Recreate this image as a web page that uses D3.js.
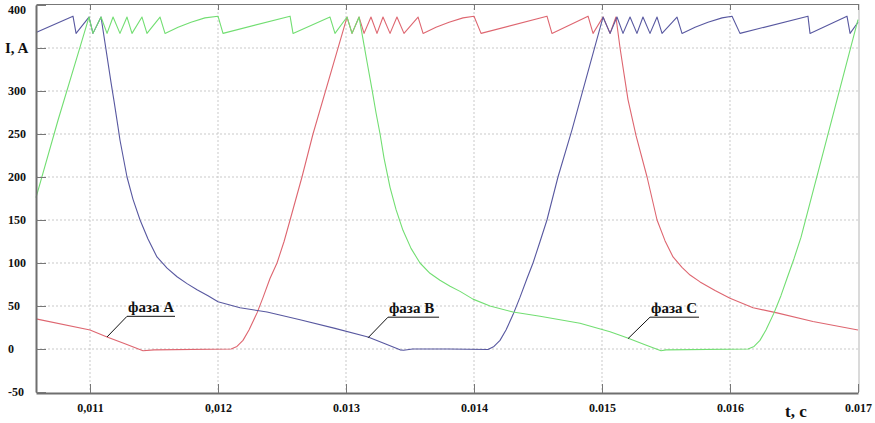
<!DOCTYPE html>
<html>
<head>
<meta charset="utf-8">
<script src="https://cdn.jsdelivr.net/npm/d3@7"></script>
<style>
body { margin: 0; background: #fff; }
.grid line { stroke: #c9c9c9; stroke-width: 1; stroke-dasharray: 2,2; }
.phase { fill: none; stroke-width: 1.1; stroke-linejoin: round; }
</style>
</head>
<body>
<svg id="chart"></svg>
<script>
// Phase currents: [t (s), I (A)]
const phaseA = [
  [0.010578, 35], [0.011, 22], [0.011133, 14], [0.011273, 6], [0.011414, -2], [0.0115, -1],
  [0.012102, 0], [0.012148, 3], [0.012195, 10], [0.012242, 22], [0.012305, 42],
  [0.012352, 60], [0.012406, 82], [0.012461, 100], [0.012516, 125], [0.012563, 150],
  [0.012656, 200], [0.012742, 250], [0.013008, 386],
  [0.013047, 367], [0.013102, 386], [0.013141, 367], [0.013195, 386],
  [0.013242, 367], [0.013289, 386], [0.013344, 367], [0.013398, 386],
  [0.013453, 367], [0.013563, 386], [0.013602, 367],
  [0.013703, 374], [0.013805, 380], [0.013914, 385], [0.014, 387],
  [0.014055, 367], [0.01457, 387], [0.014609, 367], [0.014891, 387],
  [0.01493, 367], [0.015008, 386], [0.015063, 367], [0.015109, 386],
  [0.015141, 350], [0.015172, 320], [0.015203, 290], [0.015266, 248],
  [0.015352, 200], [0.01543, 150], [0.015492, 126], [0.015555, 107],
  [0.015625, 95], [0.015688, 86], [0.015766, 78], [0.015883, 68],
  [0.016, 59], [0.01618, 48], [0.016367, 42], [0.016648, 32], [0.017, 22]
];

const phaseB = [
  [0.010578, 368], [0.010867, 387], [0.010891, 367], [0.010992, 386],
  [0.011023, 367], [0.011086, 386],
  [0.011117, 356], [0.011164, 310], [0.011188, 288], [0.011219, 258],
  [0.011234, 243], [0.011289, 200], [0.011336, 174], [0.011391, 150],
  [0.011453, 128], [0.011523, 107], [0.011602, 94], [0.01168, 84],
  [0.011758, 76], [0.011836, 69], [0.011922, 62], [0.012, 55],
  [0.012172, 48], [0.012383, 43], [0.012641, 34], [0.012914, 24],
  [0.013172, 14], [0.013305, 6], [0.013422, -1],
  [0.01345, -1.5], [0.01352, 0], [0.0138, 0], [0.014109, -0.5],
  [0.014156, 3], [0.014203, 10], [0.01425, 22], [0.014305, 40],
  [0.014359, 60], [0.014414, 82], [0.014461, 100], [0.014516, 125],
  [0.01457, 150], [0.014656, 200], [0.014766, 255],
  [0.015008, 386], [0.015063, 367], [0.015117, 386], [0.015164, 367],
  [0.015219, 386], [0.015273, 367], [0.01532, 386], [0.015375, 367],
  [0.01543, 386], [0.015469, 367], [0.015586, 386], [0.015625, 367],
  [0.015727, 374], [0.015828, 380], [0.015938, 385], [0.016016, 387],
  [0.016078, 367], [0.016609, 387], [0.016625, 367], [0.016914, 387],
  [0.016938, 367], [0.017, 380]
];

const phaseC = [
  [0.010578, 176], [0.01075, 266], [0.010922, 351], [0.010992, 386],
  [0.011023, 367], [0.011086, 386], [0.011133, 367], [0.01118, 386],
  [0.011234, 367], [0.011289, 386], [0.011328, 367], [0.011406, 386],
  [0.011445, 367], [0.011547, 386], [0.011586, 367],
  [0.011688, 374], [0.011789, 380], [0.011898, 385], [0.012, 387],
  [0.012039, 367], [0.012563, 387], [0.012586, 367], [0.012875, 386],
  [0.012914, 367], [0.013008, 386], [0.013047, 367], [0.013102, 386],
  [0.013133, 360], [0.013164, 334], [0.013203, 302], [0.013234, 275],
  [0.013266, 250], [0.013297, 222], [0.013344, 188], [0.013391, 162],
  [0.013445, 138], [0.013508, 117], [0.013578, 100], [0.013656, 88],
  [0.013734, 80], [0.013813, 73], [0.013891, 67], [0.013992, 58],
  [0.014125, 50], [0.014305, 43], [0.014516, 38], [0.014828, 30],
  [0.015063, 20], [0.015195, 13], [0.015336, 5], [0.015461, -2],
  [0.0155, -1], [0.016141, 0], [0.016188, 3], [0.016234, 10],
  [0.016281, 22], [0.016344, 42], [0.016398, 62], [0.016445, 82],
  [0.0165, 105], [0.016555, 130], [0.017, 383]
];

const phases = [
  { name: "фаза A", values: phaseA, color: "#de6670" },
  { name: "фаза B", values: phaseB, color: "#5858a0" },
  { name: "фаза C", values: phaseC, color: "#72de72" }
];

// Callout anchors in data units: pointer on curve, elbow, end of underline
const callouts = [
  { label: "фаза A", tip: [0.011133, 14], elbow: [0.011289, 38], end: 0.011664 },
  { label: "фаза B", tip: [0.013172, 13], elbow: [0.013328, 37], end: 0.013727 },
  { label: "фаза C", tip: [0.015203, 12], elbow: [0.015375, 37], end: 0.015758 }
];

const xTicks = [0.011, 0.012, 0.013, 0.014, 0.015, 0.016, 0.017];
const xTickLabels = ["0,011", "0,012", "0.013", "0.014", "0.015", "0.016", "0.017"];
const yTicks = [-50, 0, 50, 100, 150, 200, 250, 300, 350, 400];
const yTickLabels = ["-50", "0", "50", "100", "150", "200", "250", "300", "", "400"];
const xGrid = [0.011, 0.012, 0.013, 0.014, 0.015, 0.016];
const yGrid = [0, 50, 100, 150, 200, 250, 300, 350];

const W = 875, H = 423;
const plot = { left: 36, right: 858, top: 5, bottom: 392 };
const serif = '"Liberation Serif", "Times New Roman", "DejaVu Serif", serif';

const svg = d3.select("#chart").attr("width", W).attr("height", H);

const x = d3.scaleLinear().domain([0.010578, 0.017]).range([plot.left, plot.right]);
const y = d3.scaleLinear().domain([-50, 400]).range([plot.bottom, plot.top]);

function styleText(sel, size) {
  sel.attr("font-family", null)
    .style("font-family", serif)
    .style("font-weight", "bold")
    .style("font-size", size + "px")
    .style("fill", "#111");
}

// dotted grid
svg.append("g").attr("class", "grid")
  .selectAll("line.h").data(yGrid).enter().append("line")
  .attr("x1", plot.left).attr("x2", plot.right)
  .attr("y1", d => y(d)).attr("y2", d => y(d));
svg.append("g").attr("class", "grid")
  .selectAll("line.v").data(xGrid).enter().append("line")
  .attr("x1", d => x(d)).attr("x2", d => x(d))
  .attr("y1", plot.top - 1).attr("y2", plot.bottom);

// right border
svg.append("line")
  .attr("x1", plot.right + 1).attr("x2", plot.right + 1)
  .attr("y1", plot.top - 1).attr("y2", plot.bottom)
  .attr("stroke", "#b5b5b5");

// top border with short ticks
const topAxis = svg.append("g")
  .attr("transform", `translate(0,${plot.top - 1})`)
  .call(d3.axisTop(x).tickValues(xTicks).tickSize(-6).tickSizeOuter(0).tickFormat(""));
topAxis.selectAll("path, line").attr("stroke", "#777");

// curves
const line = d3.line().x(d => x(d[0])).y(d => y(d[1]));
svg.append("g").selectAll("path").data(phases).enter().append("path")
  .attr("class", "phase")
  .attr("stroke", d => d.color)
  .attr("d", d => line(d.values));

// bottom axis
const xAxis = svg.append("g")
  .attr("transform", `translate(0,${plot.bottom + 1})`)
  .call(d3.axisBottom(x).tickValues(xTicks).tickSize(-9).tickSizeOuter(0)
    .tickPadding(10).tickFormat((d, i) => xTickLabels[i]));
xAxis.attr("font-family", null);
xAxis.select(".domain").attr("stroke", "#6f6f6f").attr("stroke-width", 2);
xAxis.selectAll(".tick line").attr("stroke", "#777");
styleText(xAxis.selectAll("text"), 12);

// left axis, labels flush left
const yAxis = svg.append("g")
  .attr("transform", `translate(${plot.left},0)`)
  .call(d3.axisLeft(y).tickValues(yTicks).tickSize(-10).tickSizeOuter(0)
    .tickFormat((d, i) => yTickLabels[i]));
yAxis.attr("font-family", null);
yAxis.select(".domain").attr("stroke", "#6f6f6f").attr("stroke-width", 2);
yAxis.selectAll(".tick line").attr("stroke", "#777");
styleText(yAxis.selectAll("text"), 12);
yAxis.selectAll("text")
  .attr("text-anchor", "start")
  .attr("x", 8 - plot.left)
  .attr("y", d => (d === 400 ? 5 : 0));

// axis titles
styleText(svg.append("text").attr("x", 5).attr("y", 53).text("I, A"), 15);
styleText(svg.append("text").attr("x", 785).attr("y", 417).text("t, c"), 17);

// callouts
const co = svg.append("g").selectAll("g").data(callouts).enter().append("g");
co.append("polyline")
  .attr("fill", "none").attr("stroke", "#111").attr("stroke-width", 1)
  .attr("points", d => [
    [x(d.tip[0]), y(d.tip[1])],
    [x(d.elbow[0]), y(d.elbow[1])],
    [x(d.end), y(d.elbow[1])]
  ].map(p => p.join(",")).join(" "));
styleText(co.append("text")
  .attr("x", d => x(d.elbow[0]) + 1)
  .attr("y", d => y(d.elbow[1]) - 4)
  .text(d => d.label), 15);
</script>
</body>
</html>
